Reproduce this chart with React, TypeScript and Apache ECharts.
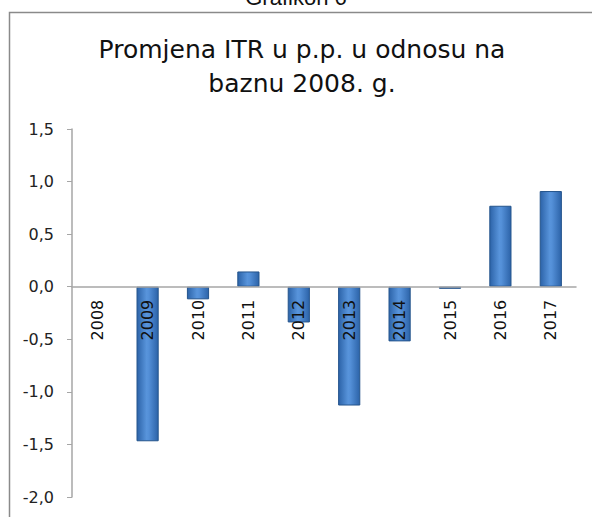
import React, { useEffect, useRef } from "react";
import * as echarts from "echarts";

const categories = ["2008", "2009", "2010", "2011", "2012", "2013", "2014", "2015", "2016", "2017"];
const values = [0, -1.47, -0.12, 0.145, -0.34, -1.13, -0.52, -0.02, 0.77, 0.91];
const yMin = -2.0;
const yMax = 1.5;
const yStep = 0.5;
const titleLines = ["Promjena ITR u p.p. u odnosu na", "baznu 2008. g."];
const caption = "Grafikon 6";

export default function App() {
  const ref = useRef<HTMLDivElement>(null);
  useEffect(() => {
    if (!ref.current) return;
    const chart = echarts.init(ref.current, undefined, { renderer: "svg" });
    const barColor = new echarts.graphic.LinearGradient(0, 0, 1, 0, [
      { offset: 0, color: "#2c63a8" },
      { offset: 0.45, color: "#5894db" },
      { offset: 0.55, color: "#5490d8" },
      { offset: 1, color: "#2c63a8" },
    ]);
    chart.setOption({
      animation: false,
      backgroundColor: "#ffffff",
      graphic: [
        {
          type: "polyline",
          shape: { points: [[9.5, 517], [9.5, 12.5], [592, 12.5]] },
          style: { stroke: "#8a8a8a", lineWidth: 1.5, fill: null },
          silent: true,
        },
        {
          type: "text",
          x: 296,
          y: -3,
          style: {
            text: caption,
            font: "22px 'Liberation Sans', Arial, sans-serif",
            fill: "#111",
            textAlign: "center",
            textVerticalAlign: "middle",
          },
        },
        {
          type: "text",
          x: 302,
          y: 49,
          style: {
            text: titleLines[0],
            font: "25px 'DejaVu Sans', Verdana, sans-serif",
            fill: "#111",
            textAlign: "center",
            textVerticalAlign: "middle",
          },
        },
        {
          type: "text",
          x: 302,
          y: 83,
          style: {
            text: titleLines[1],
            font: "25px 'DejaVu Sans', Verdana, sans-serif",
            fill: "#111",
            textAlign: "center",
            textVerticalAlign: "middle",
          },
        },
      ],
      grid: { left: 72, right: 16, top: 129, bottom: 20, containLabel: false, outerBoundsMode: "none" },
      xAxis: {
        type: "category",
        data: categories,
        z: 10,
        axisLine: { onZero: true, lineStyle: { color: "#a6a6a6", width: 1.5 } },
        axisTick: { show: false },
        axisLabel: { show: false },
        splitLine: { show: false },
      },
      yAxis: {
        type: "value",
        min: yMin,
        max: yMax,
        interval: yStep,
        axisLine: { show: true, lineStyle: { color: "#a6a6a6", width: 1.5 } },
        axisTick: { show: true, length: 5, lineStyle: { color: "#a6a6a6" } },
        splitLine: { show: false },
        axisLabel: {
          margin: 18,
          fontSize: 16,
          fontFamily: "'DejaVu Sans', Verdana, sans-serif",
          color: "#222",
          formatter: (v: number) => v.toFixed(1).replace(".", ","),
        },
      },
      series: [
        {
          type: "bar",
          data: values.map((v) => ({
            value: v,
            itemStyle: v === 0 ? { borderWidth: 0 } : undefined,
          })),
          barWidth: "44%",
          itemStyle: { color: barColor, borderColor: "#24548c", borderWidth: 1 },
        },
        {
          type: "custom",
          z: 20,
          silent: true,
          data: categories.map((c, i) => [i, 0, c]),
          renderItem: (params: any, api: any) => {
            const p = api.coord([api.value(0), 0]);
            return {
              type: "text",
              x: p[0],
              y: p[1] + 13,
              rotation: Math.PI / 2,
              style: {
                text: categories[params.dataIndex],
                font: "16px 'DejaVu Sans', Verdana, sans-serif",
                fill: "#111",
                align: "right",
                verticalAlign: "middle",
              },
            };
          },
        },
      ],
    });
    return () => chart.dispose();
  }, []);
  return (
    <div
      ref={ref}
      style={{ position: "fixed", left: 0, top: 0, width: 592, height: 517 }}
    />
  );
}
